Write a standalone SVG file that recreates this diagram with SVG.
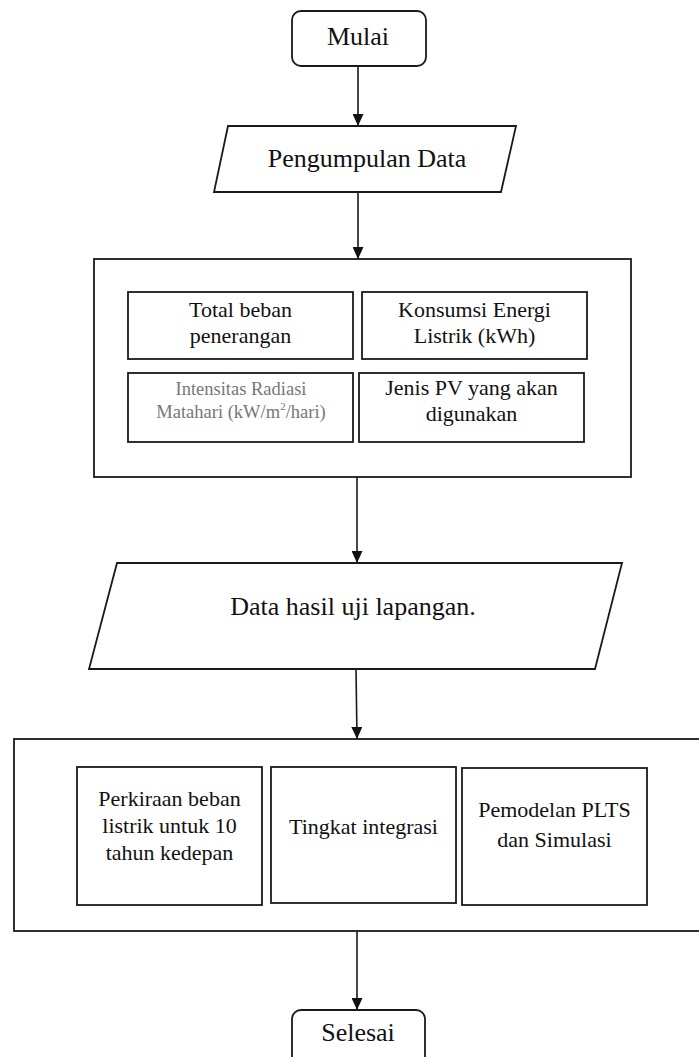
<svg xmlns="http://www.w3.org/2000/svg" width="699" height="1057" viewBox="0 0 699 1057">
<style>
.s{fill:#fff;stroke:#1a1a1a;stroke-width:1.8}
.t{font-family:"Liberation Serif","Times New Roman",serif;fill:#111;text-anchor:middle}
.big{font-size:26px}
.in{font-size:22px}
.gr{font-size:18.5px;fill:#777}
.c{stroke:#1a1a1a;stroke-width:1.6;fill:none;marker-end:url(#ah)}
</style>
<defs>
<marker id="ah" markerWidth="12" markerHeight="11" refX="12" refY="5.5" orient="auto" markerUnits="userSpaceOnUse" viewBox="0 0 12 11">
<path d="M0,0 L12,5.5 L0,11 Z" fill="#111"/>
</marker>
</defs>
<rect width="699" height="1057" fill="#fff"/>
<g id="connectors">
<line class="c" x1="358" y1="66" x2="358" y2="126"/>
<line class="c" x1="358" y1="192" x2="358" y2="259"/>
<line class="c" x1="357" y1="477" x2="357" y2="563"/>
<line class="c" x1="356" y1="669" x2="357" y2="739"/>
<line class="c" x1="357" y1="931" x2="357" y2="1010"/>
</g>
<g id="mulai">
<rect class="s" x="292" y="11" width="134" height="55" rx="9"/>
<text class="t big" x="358" y="45">Mulai</text>
</g>
<g id="pengumpulan">
<polygon class="s" points="228,126 516,126 501,192 214,192"/>
<text class="t big" x="367" y="167">Pengumpulan Data</text>
</g>
<g id="group1">
<rect class="s" x="94" y="259" width="537" height="218"/>
</g>
<g id="total-beban">
<rect class="s" x="128" y="292" width="225" height="67"/>
<text class="t in" x="240.5" y="317">Total beban</text>
<text class="t in" x="240.5" y="343">penerangan</text>
</g>
<g id="konsumsi">
<rect class="s" x="362" y="292" width="225" height="67"/>
<text class="t in" x="474.5" y="317">Konsumsi Energi</text>
<text class="t in" x="474.5" y="343">Listrik (kWh)</text>
</g>
<g id="intensitas">
<rect class="s" x="128" y="373" width="225" height="69"/>
<text class="t gr" x="241" y="395">Intensitas Radiasi</text>
<text class="t gr" x="241" y="418">Matahari (kW/m<tspan font-size="11" dy="-8">2</tspan><tspan dy="8">/hari)</tspan></text>
</g>
<g id="jenis-pv">
<rect class="s" x="359" y="373" width="225" height="69"/>
<text class="t in" x="471.5" y="395">Jenis PV yang akan</text>
<text class="t in" x="471.5" y="421">digunakan</text>
</g>
<g id="data-hasil">
<polygon class="s" points="117,563 622,563 595,669 89,669"/>
<text class="t big" x="353" y="615">Data hasil uji lapangan.</text>
</g>
<g id="group2">
<rect class="s" x="14" y="739" width="700" height="192"/>
</g>
<g id="perkiraan">
<rect class="s" x="77" y="767" width="185" height="138"/>
<text class="t in" x="169.5" y="806">Perkiraan beban</text>
<text class="t in" x="169.5" y="833">listrik untuk 10</text>
<text class="t in" x="169.5" y="860">tahun kedepan</text>
</g>
<g id="tingkat">
<rect class="s" x="271" y="767" width="185" height="136"/>
<text class="t in" x="363.5" y="834">Tingkat integrasi</text>
</g>
<g id="pemodelan">
<rect class="s" x="462" y="768" width="185" height="137"/>
<text class="t in" x="554.5" y="817">Pemodelan PLTS</text>
<text class="t in" x="554.5" y="847">dan Simulasi</text>
</g>
<g id="selesai">
<rect class="s" x="292" y="1010" width="133" height="70" rx="9"/>
<text class="t big" x="358" y="1041">Selesai</text>
</g>
</svg>
